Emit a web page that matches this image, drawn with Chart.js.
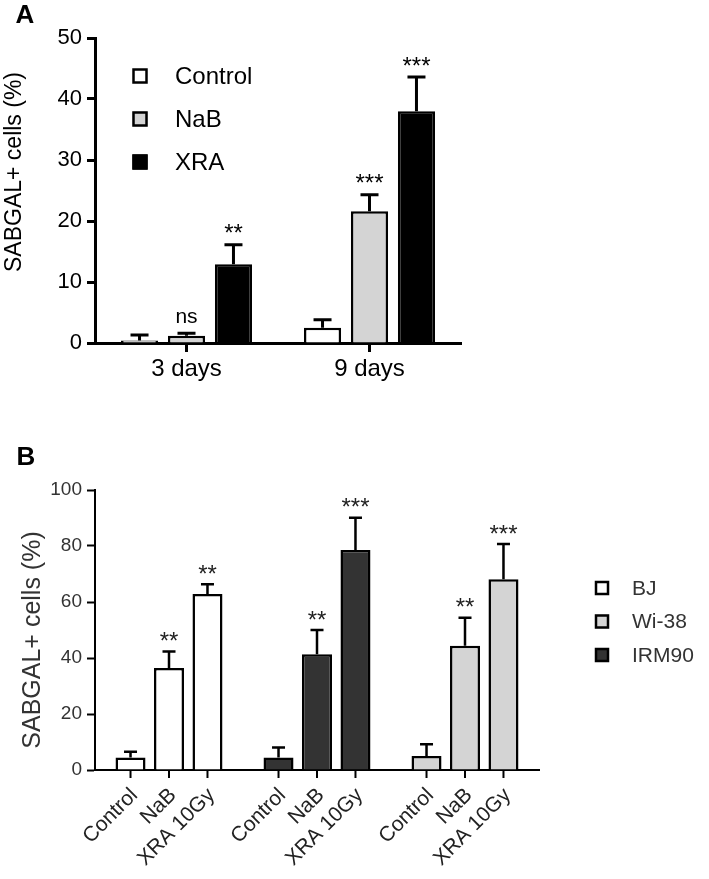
<!DOCTYPE html>
<html>
<head>
<meta charset="utf-8">
<script src="https://cdn.jsdelivr.net/npm/chart.js@4.4.1/dist/chart.umd.min.js"></script>
<style>
    body { margin: 0; background: #fff; }
    #wrapA { position: absolute; left: 0; top: 0; }
    #wrapB { position: absolute; left: 0; top: 420px; }
</style>
</head>
<body>
<div id="wrapA"><canvas id="chartA" width="709" height="420"></canvas></div>
<div id="wrapB"><canvas id="chartB" width="709" height="459"></canvas></div>
<script>

// Panel A - SABGAL+ after 3 / 9 days
const daysLabels = ['3 days', '9 days'];
const treatmentsA = ['Control', 'NaB', 'XRA'];
const controlA = [0.4, 2.5];
const nabA = [1.2, 21.6];
const xraA = [12.9, 38.0];
const controlErrA = [0.9, 1.3];
const nabErrA = [0.4, 2.7];
const xraErrA = [3.2, 5.6];
const controlSigA = ['', ''];
const nabSigA = ['ns', '***'];
const xraSigA = ['**', '***'];
const yTicksA = [0, 10, 20, 30, 40, 50];

// Panel B - three cell lines
const cellLines = ['BJ', 'IRM90', 'Wi-38'];       // order on the axis
const legendLines = ['BJ', 'Wi-38', 'IRM90'];     // order in the legend
const treatmentsB = ['Control', 'NaB', 'XRA 10Gy'];
const controlB = [4.5, 4.5, 5.0];
const nabB = [36.4, 41.3, 44.4];
const xraB = [62.9, 78.6, 68.1];
const controlErrB = [2.0, 3.5, 4.2];
const nabErrB = [5.9, 8.7, 10.0];
const xraErrB = [3.4, 11.5, 12.6];
const controlSigB = ['', '', ''];
const nabSigB = ['**', '**', '**'];
const xraSigB = ['**', '***', '***'];
const yTicksB = [0, 20, 40, 60, 80, 100];

const FONT = '"Liberation Sans", Arial, Helvetica, sans-serif';
const colorsA = { 'Control': '#ffffff', 'NaB': '#d4d4d4', 'XRA': '#000000' };
const colorsB = { 'BJ': '#ffffff', 'Wi-38': '#d4d4d4', 'IRM90': '#333333' };

Chart.defaults.font.family = FONT;
Chart.defaults.animation = false;

function errorBarPlugin(errs, sigs, cfg) {
    return {
        id: 'errorBars',
        afterDatasetsDraw(chart) {
            const ctx = chart.ctx;
            const y = chart.scales.y;
            ctx.save();
            chart.data.datasets.forEach((ds, i) => {
                chart.getDatasetMeta(i).data.forEach((bar, j) => {
                    const top = y.getPixelForValue(ds.data[j] + errs[i][j]);
                    ctx.strokeStyle = '#000';
                    ctx.lineWidth = cfg.lineWidth;
                    ctx.beginPath();
                    ctx.moveTo(bar.x, bar.y);
                    ctx.lineTo(bar.x, top);
                    ctx.moveTo(bar.x - cfg.cap / 2, top);
                    ctx.lineTo(bar.x + cfg.cap / 2, top);
                    ctx.stroke();
                    const s = sigs[i][j];
                    if (s) {
                        ctx.font = (s === 'ns' ? cfg.nsSize : cfg.starSize) + 'px ' + FONT;
                        ctx.fillStyle = cfg.color;
                        ctx.textAlign = 'center';
                        ctx.textBaseline = 'alphabetic';
                        const m = ctx.measureText(s);
                        const cy = top - cfg.gap;
                        ctx.fillText(s, bar.x, cy + (m.actualBoundingBoxAscent - m.actualBoundingBoxDescent) / 2);
                    }
                });
            });
            ctx.restore();
        }
    };
}

function legendPlugin(items, colors, cfg) {
    return {
        id: 'boxLegend',
        afterDraw(chart) {
            const ctx = chart.ctx;
            ctx.save();
            items.forEach((name, k) => {
                const cy = cfg.y + k * cfg.step;
                ctx.fillStyle = colors[name];
                ctx.fillRect(cfg.x - cfg.box / 2, cy - cfg.box / 2, cfg.box, cfg.box);
                ctx.strokeStyle = '#000';
                ctx.lineWidth = cfg.lineWidth;
                ctx.strokeRect(cfg.x - cfg.box / 2 + 1, cy - cfg.box / 2 + 1, cfg.box - 2, cfg.box - 2);
                ctx.fillStyle = cfg.color;
                ctx.font = cfg.size + 'px ' + FONT;
                ctx.textAlign = 'left';
                ctx.textBaseline = 'middle';
                ctx.fillText(name, cfg.textX, cy + 1);
            });
            ctx.restore();
        }
    };
}

function panelTextPlugin(letter, letterPos, title, titleCfg) {
    return {
        id: 'panelText',
        afterDraw(chart) {
            const ctx = chart.ctx;
            ctx.save();
            ctx.fillStyle = '#000';
            ctx.font = 'bold 26px ' + FONT;
            ctx.textAlign = 'center';
            ctx.textBaseline = 'middle';
            ctx.fillText(letter, letterPos[0], letterPos[1]);
            ctx.translate(titleCfg.x, titleCfg.y);
            ctx.rotate(-Math.PI / 2);
            ctx.fillStyle = titleCfg.color;
            ctx.font = titleCfg.size + 'px ' + FONT;
            ctx.fillText(title, 0, 0);
            ctx.restore();
        }
    };
}

// per-bar tick marks and rotated labels under panel B
const barLabelsPlugin = {
    id: 'barLabels',
    afterDraw(chart) {
        const ctx = chart.ctx;
        const bottom = chart.chartArea.bottom;
        ctx.save();
        chart.data.datasets.forEach((ds, i) => {
            chart.getDatasetMeta(i).data.forEach((bar) => {
                ctx.strokeStyle = '#000';
                ctx.lineWidth = 2;
                ctx.beginPath();
                ctx.moveTo(bar.x, bottom);
                ctx.lineTo(bar.x, bottom + 8);
                ctx.stroke();
                ctx.save();
                ctx.translate(bar.x + 4, bottom + 22);
                ctx.rotate(-Math.PI / 4);
                ctx.fillStyle = '#222';
                ctx.font = '21px ' + FONT;
                ctx.textAlign = 'right';
                ctx.textBaseline = 'middle';
                ctx.fillText(ds.label, 0, 0);
                ctx.restore();
            });
        });
        ctx.restore();
    }
};

buildChartA();
buildChartB();

function buildChartA() {
    const ctxA = document.getElementById('chartA');
    const values = [controlA, nabA, xraA];
    new Chart(ctxA, {
        type: 'bar',
        data: {
            labels: daysLabels,
            datasets: treatmentsA.map((t, i) => ({
                label: t,
                data: values[i],
                backgroundColor: colorsA[t],
                borderColor: '#000',
                borderWidth: 2.5,
                categoryPercentage: 0.77,
                barPercentage: 0.79
            }))
        },
        options: {
            responsive: false,
            layout: { padding: { top: 38, right: 248, left: 0, bottom: 0 } },
            scales: {
                x: {
                    afterFit: (scale) => { scale.height = 77; },
                    grid: { display: true, drawOnChartArea: false, offset: false, tickLength: 9, tickColor: '#000', tickWidth: 3 },
                    border: { display: true, color: '#000', width: 3 },
                    ticks: { color: '#000', font: { size: 24 }, padding: 3 }
                },
                y: {
                    min: 0,
                    max: 50,
                    afterFit: (scale) => { scale.width = 95; },
                    afterBuildTicks: (scale) => { scale.ticks = yTicksA.map(v => ({ value: v })); },
                    grid: { display: true, drawOnChartArea: false, tickLength: 8, tickColor: '#000', tickWidth: 3 },
                    border: { display: true, color: '#000', width: 3 },
                    ticks: { color: '#000', font: { size: 22 }, padding: 5 }
                }
            },
            plugins: {
                legend: { display: false },
                tooltip: { enabled: false }
            }
        },
        plugins: [
            errorBarPlugin([controlErrA, nabErrA, xraErrA], [controlSigA, nabSigA, xraSigA],
                { lineWidth: 3, cap: 18, gap: 16, starSize: 24, nsSize: 21, color: '#000' }),
            legendPlugin(treatmentsA, colorsA,
                { x: 140, y: 76, step: 43, box: 15, lineWidth: 2.5, textX: 175, size: 24, color: '#000' }),
            panelTextPlugin('A', [25, 16], 'SABGAL+ cells (%)', { x: 15, y: 172, size: 23, color: '#000' })
        ]
    });
}

function buildChartB() {
    const ctxB = document.getElementById('chartB');
    const values = [controlB, nabB, xraB];
    new Chart(ctxB, {
        type: 'bar',
        data: {
            labels: cellLines,
            datasets: treatmentsB.map((t, i) => ({
                label: t,
                data: values[i],
                backgroundColor: cellLines.map(c => colorsB[c]),
                borderColor: '#000',
                borderWidth: 2.5,
                categoryPercentage: 0.78,
                barPercentage: 0.78
            }))
        },
        options: {
            responsive: false,
            layout: { padding: { top: 70, right: 170, left: 0, bottom: 0 } },
            scales: {
                x: {
                    afterFit: (scale) => { scale.height = 109; },
                    grid: { display: false },
                    border: { display: true, color: '#000', width: 2 },
                    ticks: { display: false }
                },
                y: {
                    min: 0,
                    max: 100,
                    afterFit: (scale) => { scale.width = 95; },
                    afterBuildTicks: (scale) => { scale.ticks = yTicksB.map(v => ({ value: v })); },
                    grid: { display: true, drawOnChartArea: false, tickLength: 8, tickColor: '#000', tickWidth: 2 },
                    border: { display: true, color: '#000', width: 2 },
                    ticks: { color: '#333', font: { size: 19 }, padding: 5 }
                }
            },
            plugins: {
                legend: { display: false },
                tooltip: { enabled: false }
            }
        },
        plugins: [
            errorBarPlugin([controlErrB, nabErrB, xraErrB], [controlSigB, nabSigB, xraSigB],
                { lineWidth: 2.5, cap: 13, gap: 15, starSize: 24, nsSize: 21, color: '#222' }),
            legendPlugin(legendLines, colorsB,
                { x: 602, y: 168, step: 33.5, box: 14, lineWidth: 2.5, textX: 632, size: 21, color: '#333' }),
            panelTextPlugin('B', [26, 38], 'SABGAL+ cells (%)', { x: 33, y: 220, size: 25, color: '#333' }),
            barLabelsPlugin
        ]
    });
}
</script>
</body>
</html>
